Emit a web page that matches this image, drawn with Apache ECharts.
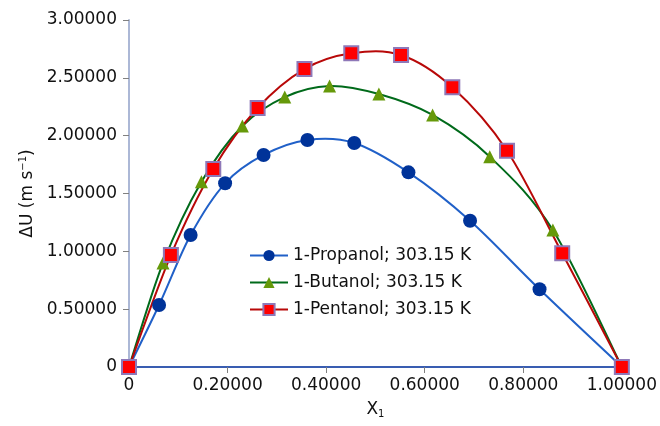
<!DOCTYPE html>
<html>
<head>
<meta charset="utf-8">
<script src="https://cdn.jsdelivr.net/npm/echarts@6/dist/echarts.min.js"></script>
<style>
html,body{margin:0;padding:0;background:#fff;}
#chart{width:660px;height:426px;}
</style>
</head>
<body>
<div id="chart"></div>
<script>
var seriesNames = ['1-Propanol; 303.15 K', '1-Butanol; 303.15 K', '1-Pentanol; 303.15 K'];
var propanolX = [0, 0.061, 0.125, 0.195, 0.273, 0.362, 0.457, 0.567, 0.692, 0.833, 1.0];
var propanolY = [0, 0.536, 1.141, 1.588, 1.833, 1.963, 1.937, 1.683, 1.265, 0.672, 0];
var butanolX = [0, 0.069, 0.147, 0.230, 0.316, 0.407, 0.507, 0.616, 0.732, 0.860, 1.0];
var butanolY = [0, 0.900, 1.602, 2.084, 2.334, 2.430, 2.360, 2.179, 1.818, 1.184, 0];
var pentanolX = [0, 0.085, 0.171, 0.261, 0.356, 0.451, 0.552, 0.656, 0.767, 0.879, 1.0];
var pentanolY = [0, 0.968, 1.712, 2.239, 2.576, 2.712, 2.697, 2.418, 1.870, 0.983, 0];
var xTickLabels = ['0', '0.20000', '0.40000', '0.60000', '0.80000', '1.00000'];
var yTickLabels = ['0', '0.50000', '1.00000', '1.50000', '2.00000', '2.50000', '3.00000'];

function pairs(xs, ys) { return xs.map(function (x, i) { return [x, ys[i]]; }); }

// Smooth curve (Catmull-Rom style Bezier) through the data, positioned via the axes' own scale (api.coord)
function curveSeries(xs, ys, color) {
  return {
    type: 'custom', silent: true, z: 1,
    data: pairs(xs, ys),
    encode: {x: 0, y: 1},
    renderItem: function (params, api) {
      var i = params.dataIndex;
      var n = xs.length;
      if (i >= n - 1) return null;
      function P(k) { k = Math.max(0, Math.min(n - 1, k)); return api.coord([xs[k], ys[k]]); }
      var p0 = P(i - 1), p1 = P(i), p2 = P(i + 1), p3 = P(i + 2);
      var t = 1 / 6;
      return {
        type: 'bezierCurve',
        shape: {
          x1: p1[0], y1: p1[1], x2: p2[0], y2: p2[1],
          cpx1: p1[0] + (p2[0] - p0[0]) * t, cpy1: p1[1] + (p2[1] - p0[1]) * t,
          cpx2: p2[0] - (p3[0] - p1[0]) * t, cpy2: p2[1] - (p3[1] - p1[1]) * t
        },
        style: {stroke: color, lineWidth: 2, fill: null}
      };
    }
  };
}

var FONT = 'DejaVu Sans';
var chart = echarts.init(document.getElementById('chart'), null, {renderer: 'canvas'});
chart.setOption({
  backgroundColor: '#ffffff',
  animation: false,
  grid: {left: 129, right: 37, top: 20, bottom: 59, containLabel: false},
  legend: {
    orient: 'vertical',
    left: 244,
    top: 242,
    itemWidth: 38,
    itemHeight: 14,
    itemGap: 10,
    lineStyle: {opacity: 1, width: 2},
    textStyle: {fontFamily: FONT, fontSize: 17, color: '#111'},
    data: seriesNames
  },
  xAxis: [{
    type: 'value', min: 0, max: 1, interval: 0.2,
    name: '{a|X}{b|1}', nameLocation: 'middle', nameGap: 34,
    nameTextStyle: {rich: {a: {fontFamily: FONT, fontSize: 17, color: '#111'}, b: {fontFamily: FONT, fontSize: 10, color: '#111', verticalAlign: 'bottom', padding: [8, 0, 0, 0]}}},
    axisLine: {show: true, lineStyle: {color: '#a0a0a0', width: 1.5}},
    axisTick: {show: true, inside: false, length: 6, lineStyle: {color: '#808080'}},
    axisLabel: {margin: 10, fontFamily: FONT, fontSize: 17, color: '#111',
      formatter: function (v) { return xTickLabels[Math.round(v / 0.2)]; }},
    splitLine: {show: false}
  }, {
    type: 'value', position: 'top', min: 0, max: 1,
    axisLine: {show: true, lineStyle: {color: '#1040b0', width: 1.5}},
    axisTick: {show: false}, axisLabel: {show: false}, splitLine: {show: false}
  }],
  yAxis: [{
    type: 'value', min: 0, max: 3, interval: 0.5,
    name: '{a|ΔU (m s}{b|−1}{a|)}', nameLocation: 'middle', nameGap: 90, nameRotate: 90,
    nameTextStyle: {rich: {a: {fontFamily: FONT, fontSize: 17, color: '#111'}, b: {fontFamily: FONT, fontSize: 10, color: '#111', verticalAlign: 'top', padding: [0, 0, 8, 0]}}},
    axisLine: {show: true, lineStyle: {color: '#a0a0a0', width: 1.5}},
    axisTick: {show: true, inside: false, length: 6, lineStyle: {color: '#808080'}},
    axisLabel: {margin: 12, fontFamily: FONT, fontSize: 17, color: '#111',
      formatter: function (v) { return yTickLabels[Math.round(v / 0.5)]; }},
    splitLine: {show: false}
  }, {
    type: 'value', position: 'right', min: 0, max: 3,
    axisLine: {show: true, lineStyle: {color: '#a8b8e0', width: 1.5}},
    axisTick: {show: false}, axisLabel: {show: false}, splitLine: {show: false}
  }],
  series: [
    curveSeries(propanolX, propanolY, '#2060c8'),
    curveSeries(butanolX, butanolY, '#006a1a'),
    curveSeries(pentanolX, pentanolY, '#b80808'),
  {
    name: seriesNames[0], type: 'line', clip: false, z: 3,
    data: pairs(propanolX, propanolY),
    symbol: 'circle', symbolSize: 14,
    lineStyle: {color: '#2060c8', width: 2, opacity: 0},
    itemStyle: {color: '#003399', borderWidth: 0}
  }, {
    name: seriesNames[1], type: 'line', clip: false, z: 3,
    data: pairs(butanolX, butanolY),
    symbol: 'triangle', symbolSize: 13,
    lineStyle: {color: '#006a1a', width: 2, opacity: 0},
    itemStyle: {color: '#66990a', borderWidth: 0}
  }, {
    name: seriesNames[2], type: 'line', clip: false, z: 3,
    data: pairs(pentanolX, pentanolY),
    symbol: 'rect', symbolSize: 14,
    lineStyle: {color: '#b80808', width: 2, opacity: 0},
    itemStyle: {color: '#ff0000', borderColor: '#8e78b8', borderWidth: 2}
  }]
});
</script>
</body>
</html>
